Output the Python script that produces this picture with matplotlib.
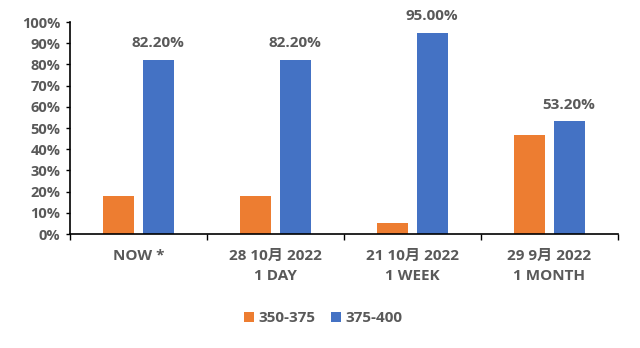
import numpy as np
import matplotlib.pyplot as plt
from matplotlib.ticker import PercentFormatter

categories = ['NOW *', '28 10月 2022\n1 DAY', '21 10月 2022\n1 WEEK', '29 9月 2022\n1 MONTH']
low_range = [17.8, 17.8, 5.0, 46.8]     # 350-375
high_range = [82.2, 82.2, 95.0, 53.2]   # 375-400

plt.rcParams['font.family'] = ['Open Sans', 'Noto Sans CJK SC', 'DejaVu Sans']
grey = '#595959'

fig = plt.figure(figsize=(6.4, 3.48), dpi=100)
ax = fig.add_axes([70/640, 1 - 234/348, 548/640, 212/348])

x = np.arange(len(categories))
w = 0.226
ax.bar(x - 0.147, low_range, w, color='#ED7D31', label='350-375')
bars = ax.bar(x + 0.143, high_range, w, color='#4472C4', label='375-400')
for b, v in zip(bars, high_range):
    ax.text(b.get_x() + b.get_width() / 2, v + 4.5, f'{v:.2f}%', ha='center', va='bottom',
            fontsize=11, fontweight='bold', color=grey)

ax.set_xlim(-0.5, len(categories) - 0.5)
ax.set_ylim(0, 100)
ax.set_yticks(range(0, 101, 10))
ax.yaxis.set_major_formatter(PercentFormatter(decimals=0))
ax.set_xticks(x)
ax.set_xticklabels(categories, linespacing=1.55)
ax.set_xticks(np.arange(-0.5, len(categories)), minor=True)
ax.tick_params(axis='x', which='major', length=0, pad=11)
ax.tick_params(axis='x', which='minor', length=4, width=1, color='black')
ax.tick_params(axis='y', length=3, width=1, color='black', pad=4)
for lbl in ax.get_xticklabels():
    lbl.set_fontweight('bold')
    lbl.set_color(grey)
    lbl.set_fontsize(11)
for lbl in ax.get_yticklabels():
    lbl.set_fontweight('bold')
    lbl.set_color(grey)
    lbl.set_fontsize(10.5)
for s in ['top', 'right']:
    ax.spines[s].set_visible(False)
for s in ['left', 'bottom']:
    ax.spines[s].set_color('black')
    ax.spines[s].set_linewidth(1.2)

leg = fig.legend(loc='center', bbox_to_anchor=(0.505, 1 - 318/348), ncol=2, frameon=False,
                 handlelength=0.65, handleheight=0.65, handletextpad=0.3, columnspacing=1.0,
                 prop={'weight': 'bold', 'size': 11})
for t in leg.get_texts():
    t.set_color(grey)

fig.savefig('out.png', dpi=100)
